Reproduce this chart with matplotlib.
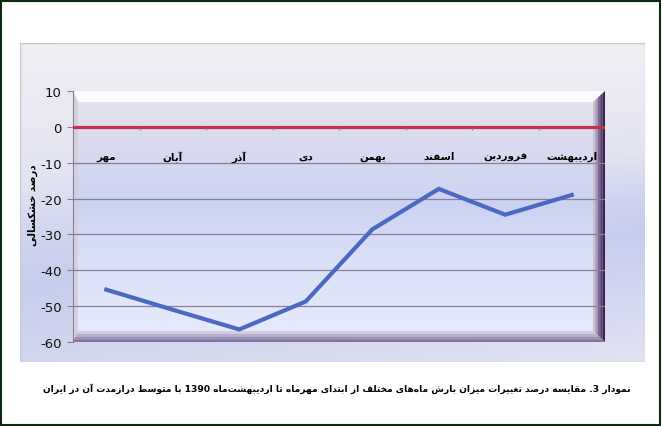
import re
import matplotlib
matplotlib.use('Agg')
import matplotlib.pyplot as plt
import numpy as np
from matplotlib.colors import LinearSegmentedColormap
from matplotlib.patches import Polygon, Rectangle

plt.rcParams['font.family'] = ['DejaVu Sans']
plt.rcParams['axes.unicode_minus'] = False

months = ['مهر', 'آبان', 'آذر', 'دی', 'بهمن', 'اسفند', 'فروردین', 'اردیبهشت']
drought_pct = [-45.4, -51.0, -56.5, -48.7, -28.6, -17.3, -24.5, -19.0]
y_ticks = [10, 0, -10, -20, -30, -40, -50, -60]
y_label = 'درصد خشکسالی'
caption = ('نمودار 3. مقایسه درصد تغییرات میزان بارش ماه\u200cهای مختلف از ابتدای '
           'مهرماه تا اردیبهشت\u200cماه 1390 با متوسط درازمدت آن در ایران')

# arabic presentation forms: isolated, final, initial, medial
FORMS = {
    'ا': ('\uFE8D', '\uFE8E', None, None),
    'آ': ('\uFE81', '\uFE82', None, None),
    'ب': ('\uFE8F', '\uFE90', '\uFE91', '\uFE92'),
    'ت': ('\uFE95', '\uFE96', '\uFE97', '\uFE98'),
    'خ': ('\uFEA5', '\uFEA6', '\uFEA7', '\uFEA8'),
    'د': ('\uFEA9', '\uFEAA', None, None),
    'ذ': ('\uFEAB', '\uFEAC', None, None),
    'ر': ('\uFEAD', '\uFEAE', None, None),
    'ز': ('\uFEAF', '\uFEB0', None, None),
    'س': ('\uFEB1', '\uFEB2', '\uFEB3', '\uFEB4'),
    'ش': ('\uFEB5', '\uFEB6', '\uFEB7', '\uFEB8'),
    'ص': ('\uFEB9', '\uFEBA', '\uFEBB', '\uFEBC'),
    'ط': ('\uFEC1', '\uFEC2', '\uFEC3', '\uFEC4'),
    'غ': ('\uFECD', '\uFECE', '\uFECF', '\uFED0'),
    'ف': ('\uFED1', '\uFED2', '\uFED3', '\uFED4'),
    'ق': ('\uFED5', '\uFED6', '\uFED7', '\uFED8'),
    'ل': ('\uFEDD', '\uFEDE', '\uFEDF', '\uFEE0'),
    'م': ('\uFEE1', '\uFEE2', '\uFEE3', '\uFEE4'),
    'ن': ('\uFEE5', '\uFEE6', '\uFEE7', '\uFEE8'),
    'ه': ('\uFEE9', '\uFEEA', '\uFEEB', '\uFEEC'),
    'و': ('\uFEED', '\uFEEE', None, None),
    'ک': ('\uFB8E', '\uFB8F', '\uFB90', '\uFB91'),
    'ی': ('\uFBFC', '\uFBFD', '\uFBFE', '\uFBFF'),
}


def fa(s):
    def dual(c):
        return c in FORMS and FORMS[c][2] is not None
    out = []
    for i, c in enumerate(s):
        if c == '\u200c':
            continue
        if c not in FORMS:
            out.append(c)
            continue
        prev = s[i - 1] if i > 0 else ''
        nxt = s[i + 1] if i < len(s) - 1 else ''
        jp = dual(prev)
        jn = dual(c) and nxt in FORMS
        iso, fin, ini, med = FORMS[c]
        out.append(med if jp and jn else fin if jp else ini if jn else iso)
    toks = re.findall(r'[0-9]+|.', ''.join(out))
    return ''.join(toks[::-1])


W, H = 662, 427
fig = plt.figure(figsize=(W / 100, H / 100), dpi=100)
fig.patch.set_facecolor('white')
fig.add_artist(Rectangle((1 / W, 1 / H), 1 - 3 / W, 1 - 3 / H, transform=fig.transFigure,
                         fill=False, edgecolor='#0d2a10', lw=1.5))

# chart area panel
bg = fig.add_axes([20 / W, (H - 363) / H, 625 / W, 319 / H])
bg.axis('off')
pcm = LinearSegmentedColormap.from_list('panel', [(0, '#f0eff4'), (0.35, '#e3e4f2'),
                                                  (0.5, '#cdd2ee'), (0.6, '#c6cdec'),
                                                  (0.8, '#d4d8f0'), (1, '#e2e4f3')])
gy = np.linspace(0, 1, 200)[:, None]
gx = np.linspace(0, 1, 100)[None, :]
bg.imshow(gy * (0.75 + 0.25 * gx) + (1 - (0.75 + 0.25 * gx)) * 0.1, cmap=pcm, aspect='auto',
          extent=[0, 1, 0, 1], vmin=0, vmax=1)
bg.add_patch(Rectangle((0, 0), 1, 1, transform=bg.transAxes, fill=False,
                       edgecolor='#cbc6d0', lw=1))
bg.set_xlim(0, 1)
bg.set_ylim(0, 1)

ax = fig.add_axes([73 / W, (H - 343) / H, 532 / W, 251 / H])
ax.set_xlim(-0.5, len(months) - 0.5)
ax.set_ylim(-60, 10)

wcm = LinearSegmentedColormap.from_list('wall', [(0, '#e6ebfb'), (0.3, '#dbe2f8'),
                                                 (0.55, '#cbd3f2'), (0.8, '#dadbef'),
                                                 (1, '#e6e4ed')])
ax.imshow(np.linspace(0, 1, 200)[:, None], cmap=wcm, aspect='auto', origin='lower',
          extent=[-0.5, len(months) - 0.5, -60, 10], zorder=0)

# bevel frame
l, r, t, b = 5 / 532, 12 / 532, 11 / 251, 11 / 251
ax.add_patch(Polygon([(0, 1), (1, 1), (1 - r, 1 - t), (l, 1 - t)], closed=True,
                     transform=ax.transAxes, facecolor='#fbfbfd', edgecolor='none', zorder=1))
ax.add_patch(Polygon([(0, 0), (0, 1), (l, 1 - t), (l, b)], closed=True,
                     transform=ax.transAxes, facecolor='#d4d0dc', edgecolor='none', zorder=1))
for k, c in enumerate(['#c7bfd2', '#a797b4', '#7c6790', '#5a4070', '#3c2350']):
    f0, f1 = k / 5, (k + 1) / 5
    ax.add_patch(Polygon([(1 - r + r * f0, 1 - t + t * f0), (1 - r + r * f1, 1 - t + t * f1),
                          (1 - r + r * f1, b - b * f1), (1 - r + r * f0, b - b * f0)],
                         closed=True, transform=ax.transAxes, facecolor=c,
                         edgecolor='none', zorder=1))
for k, c in enumerate(['#d2cde0', '#b9b0cb', '#9d90b4', '#83749e']):
    f0, f1 = k / 4, (k + 1) / 4
    ax.add_patch(Polygon([(l - l * f0, b - b * f0), (1 - r + r * f0, b - b * f0),
                          (1 - r + r * f1, b - b * f1), (l - l * f1, b - b * f1)],
                         closed=True, transform=ax.transAxes, facecolor=c,
                         edgecolor='none', zorder=1))

grid_c = '#8c7c98'
for v in y_ticks[2:-1]:
    ax.axhline(v, color=grid_c, lw=0.9, zorder=2)
ax.axhline(0, color='#c3304c', lw=2.3, zorder=2.6)
ax.vlines(np.arange(len(months) - 1) + 0.5, -0.9, 0, color=grid_c, lw=0.9, zorder=2.7)

x = np.arange(len(months))
ax.plot(x, drought_pct, color='#4c68c0', lw=3, solid_joinstyle='miter', zorder=3)

for i, m in enumerate(months):
    ax.annotate(fa(m), (i, 0), xytext=(0, -21), textcoords='offset points',
                ha='center', va='center', fontsize=7.5, fontweight='bold', zorder=4)

for s in ['top', 'right', 'bottom']:
    ax.spines[s].set_visible(False)
ax.spines['left'].set_color(grid_c)
ax.set_xticks([])
ax.set_yticks(y_ticks)
ax.tick_params(axis='y', direction='out', length=4, color=grid_c, labelsize=9.5, pad=4,
               labelcolor='#111111')

fig.text(33 / W, 1 - 205 / H, fa(y_label), rotation=90, ha='center', va='center',
         fontsize=7.3, fontweight='bold')
cap = fig.text(631 / W, 1 - 389 / H, fa(caption), ha='right', va='center',
               fontsize=8, fontweight='bold')
fig.canvas.draw()
cap.set_fontsize(8 * 589 / cap.get_window_extent().width)

fig.savefig('out.png', dpi=100)
